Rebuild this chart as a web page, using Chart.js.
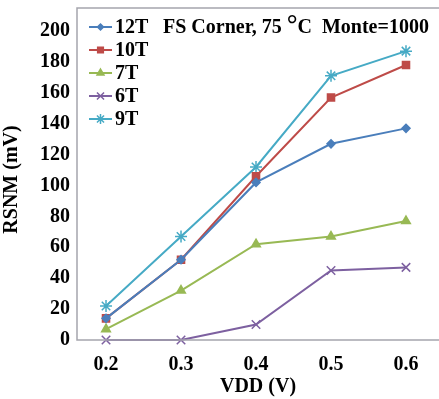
<!DOCTYPE html>
<html><head><meta charset="utf-8">
<script src="https://cdn.jsdelivr.net/npm/chart.js@4.4.1/dist/chart.umd.min.js"></script>
<style>html,body{margin:0;padding:0;background:#fff}#wrap{width:439px;height:399px}</style>
</head><body><div id="wrap"><canvas id="c" width="439" height="399"></canvas></div>
<script>
const vdd = [0.2, 0.3, 0.4, 0.5, 0.6];
const seriesNames = ['12T', '10T', '7T', '6T', '9T'];
const s12T = [14, 52, 102, 127, 137];
const s10T = [14, 52, 106, 157, 178];
const s7T  = [7, 32, 62, 67, 77];
const s6T  = [0, 0, 10, 45, 47];
const s9T  = [22, 67, 112, 171, 187];
const yTicks = [0, 20, 40, 60, 80, 100, 120, 140, 160, 180, 200];
const titleParts = ['FS Corner, 75 ', '°', 'C  Monte=1000'];

const colors = ['#4A7EBB', '#BE4B48', '#98B954', '#7D60A0', '#46AAC5'];
const styles = ['rectRot', 'rect', 'triangle', 'crossRot', 'star'];
const radii = [4, 5, 5, 6, 6];
const allSeries = [s12T, s10T, s7T, s6T, s9T];
const FONT = '"Liberation Serif", "Times New Roman", serif';

const datasets = allSeries.map((s, i) => ({
  label: seriesNames[i],
  data: s.map((v, j) => ({x: vdd[j], y: v})),
  borderColor: colors[i],
  backgroundColor: colors[i],
  pointStyle: styles[i],
  pointRadius: radii[i],
  pointBorderWidth: 1.5,
  borderWidth: 2,
  tension: 0,
  clip: false
}));

const decor = {
  id: 'decor',
  afterDraw(chart) {
    const ctx = chart.ctx, a = chart.chartArea;
    const boxTop = chart.scales.y.getPixelForValue(215);
    ctx.save();
    ctx.strokeStyle = '#A5A5AD';
    ctx.lineWidth = 1.5;
    ctx.beginPath();
    ctx.moveTo(chart.width, boxTop); ctx.lineTo(a.left, boxTop); ctx.lineTo(a.left, a.bottom); ctx.lineTo(chart.width, a.bottom);
    ctx.stroke();
    // legend
    ctx.textBaseline = 'middle';
    chart.data.datasets.forEach((ds, i) => {
      const y = 27 + i * 23;
      ctx.strokeStyle = ds.borderColor; ctx.lineWidth = 2;
      ctx.beginPath(); ctx.moveTo(89, y); ctx.lineTo(112, y); ctx.stroke();
      ctx.fillStyle = ds.backgroundColor;
      ctx.strokeStyle = ds.borderColor;
      ctx.lineWidth = 1.5;
      Chart.helpers.drawPoint(ctx, {pointStyle: ds.pointStyle, radius: ds.pointRadius - 1, borderWidth: 1.5}, 100.5, y);
      ctx.fillStyle = '#000';
      ctx.textAlign = 'left';
      ctx.font = 'bold 20px ' + FONT;
      ctx.fillText(ds.label, 115, y + 1);
    });
    // title
    let x = 163;
    ctx.fillStyle = '#000';
    ctx.font = 'bold 20px ' + FONT;
    ctx.fillText(titleParts[0], x, 28); x += ctx.measureText(titleParts[0]).width;
    ctx.font = 'bold 27px ' + FONT;
    ctx.fillText(titleParts[1], x, 26); x += ctx.measureText(titleParts[1]).width;
    ctx.font = 'bold 20px ' + FONT;
    ctx.fillText(titleParts[2], x, 28);
    ctx.restore();
  }
};

new Chart(document.getElementById('c'), {
  type: 'line',
  data: {datasets},
  plugins: [decor],
  options: {
    responsive: false,
    animation: false,
    layout: {autoPadding: false, padding: {top: 8, right: 0, left: 0, bottom: 0}},
    plugins: {legend: {display: false}, tooltip: {enabled: false}},
    scales: {
      x: {
        type: 'linear',
        min: 0.1613, max: 0.644,
        grid: {display: false, drawTicks: false},
        border: {display: false},
        afterBuildTicks: s => { s.ticks = vdd.map(v => ({value: v})); },
        afterFit: s => { s.height = 59; },
        ticks: {color: '#000', font: {family: FONT, size: 20, weight: 'bold'}, padding: 13, callback: v => Number(v).toFixed(1), maxRotation: 0, autoSkip: false},
        title: {display: true, text: 'VDD (V)', color: '#000', font: {family: FONT, size: 20, weight: 'bold'}, padding: {top: 2, bottom: 0}}
      },
      y: {
        min: 0, max: 207.8,
        grid: {display: false, drawTicks: false},
        border: {display: false},
        afterBuildTicks: s => { s.ticks = yTicks.map(v => ({value: v})); },
        afterFit: s => { s.width = 77; },
        ticks: {color: '#000', font: {family: FONT, size: 20, weight: 'bold'}, padding: 7},
        title: {display: true, text: 'RSNM (mV)', color: '#000', font: {family: FONT, size: 20, weight: 'bold'}, padding: {top: 0, bottom: 0}}
      }
    }
  }
});
</script></body></html>
